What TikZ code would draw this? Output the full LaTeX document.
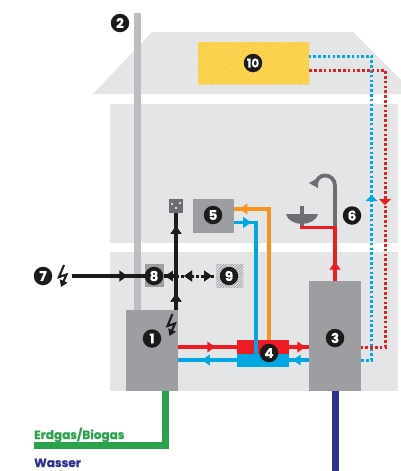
\documentclass[tikz,border=0pt]{standalone}
\usepackage{fontspec}
\setmainfont{Poppins}[BoldFeatures={FakeBold=0.6}]
\usetikzlibrary{arrows.meta,decorations.markings,patterns.meta}
\definecolor{wall}{HTML}{E4E5E7}
\definecolor{chim}{HTML}{BCBDC0}
\definecolor{unit}{HTML}{9D9EA1}
\definecolor{sock}{HTML}{6D6E71}
\definecolor{ink}{HTML}{1D1A1B}
\definecolor{hot}{HTML}{ED1C24}
\definecolor{cold}{HTML}{00A7E1}
\definecolor{oran}{HTML}{F7941D}
\definecolor{gree}{HTML}{2BA24C}
\definecolor{navy}{HTML}{2E3192}
\definecolor{solar}{HTML}{FDC82F}
\definecolor{solarlight}{HTML}{FBDD6E}
\tikzset{
  x=1pt,y=-1pt,
  wallbox/.style={fill=wall,draw=none,inner sep=0,anchor=north west},
  unitbox/.style={fill=unit,draw=none,inner sep=0,anchor=north west},
  badge/.style={circle,fill=ink,text=white,inner sep=0,minimum size=18.5pt,font=\bfseries\fontsize{13.5}{13.5}\selectfont},
  pipe/.style={line width=3.8pt},
  dotline/.style={line width=3pt,dash pattern=on 2.6pt off 2.2pt},
  tipAt/.style={postaction={decorate},decoration={markings,mark=at position #1 with {\arrow{Triangle[length=8pt,width=10.5pt]}}}},
  tipBack/.style={postaction={decorate},decoration={markings,mark=at position #1 with {\arrowreversed{Triangle[length=8pt,width=10.5pt]}}}},
  flatAt/.style={postaction={decorate},decoration={markings,mark=at position #1 with {\arrow{Triangle[length=6pt,width=12pt]}}}},
  boltpic/.pic={
    \draw[ink,line width=2.1pt,miter limit=10,-{Triangle[length=6.5pt,width=8pt]}] (1.5,-11) -- (-3.5,1) -- (4,-1.5) -- (-1.5,11);
  }
}
\begin{document}
\begin{tikzpicture}
\useasboundingbox (0,0) rectangle (401,471);
% house
\fill[wall] (93,94) -- (152,32) -- (353,32) -- (401,80) -- (401,94) -- cycle;
\node[wallbox,minimum width=288pt,minimum height=139pt] (upper) at (110,104) {};
\node[wallbox,minimum width=288pt,minimum height=139pt] (lower) at (110,252) {};
\node[fill=chim,inner sep=0,anchor=north west,minimum width=7pt,minimum height=298pt] (chimney) at (134,13) {};
% solar collector
\node[inner sep=0,anchor=north west,minimum width=111pt,minimum height=42pt,fill=solarlight] (b10) at (198,42) {};
\fill[pattern={Lines[angle=45,distance=2.4pt,line width=1.1pt]},pattern color=solar] (b10.north west) rectangle (b10.south east);
% units
\node[unitbox,minimum width=52pt,minimum height=81pt] (b1) at (126,310) {};
\node[unitbox,minimum width=52pt,minimum height=110pt] (b3) at (309,281) {};
\node[unitbox,minimum width=41pt,minimum height=34pt] (b5) at (193,199) {};
\node[unitbox,minimum width=19pt,minimum height=23pt] (b8) at (145,264) {};
\node[inner sep=0,anchor=north west,minimum width=27pt,minimum height=23pt,
  pattern={Lines[angle=45,distance=2pt,line width=.8pt]},pattern color=unit] (b9) at (216,264) {};
\node[fill=sock,inner sep=0,anchor=north west,minimum width=14pt,minimum height=14pt] (socket) at (169,199) {};
\fill[white] (172,204) circle (1.1) (180,203) circle (1.1) (176,208) circle (1.1);
% storage 4
\node[fill=hot,inner sep=0,anchor=north west,minimum width=52pt,minimum height=14pt] (b4hot) at (237,340) {};
\node[fill=cold,inner sep=0,anchor=north west,minimum width=52pt,minimum height=13pt] (b4cold) at (237,354) {};
% green, navy
\coordinate (gasend) at (34,445.5);
\coordinate (wasend) at (335.5,471);
\draw[gree,line width=7pt] (b1.south -| 165.5,0) -- (165.5,445.5) -- (gasend);
\draw[navy,line width=7pt] (b3.south -| wasend) -- (wasend);
% heating circuit
\draw[hot,pipe,tipAt=.63] (b1.east |- 0,347) -- (b4hot.west |- 0,347);
\draw[cold,pipe,tipAt=.6] (b4cold.west |- 0,360) -- (b1.east |- 0,360);
\draw[hot,pipe,tipAt=.82] (b4hot.east |- 0,347) -- (b3.west |- 0,347);
\draw[cold,pipe,tipAt=.83] (b3.west |- 0,360) -- (b4cold.east |- 0,360);
% 4 to 5
\draw[oran,pipe,tipAt=.97] (b4hot.north -| 269,0) -- (269,209) -- (b5.east |- 0,209);
\draw[cold,pipe,tipAt=.11] (b5.east |- 0,222.5) -- (256,222.5) -- (256,354);
% hot water
\draw[line width=3.5pt,sock] (302,206) -- (302,228);
\fill[sock] (286,214) -- (318,214) .. controls (317,220) and (309,224) .. (302,224) .. controls (295,224) and (287,220) .. (286,214) -- cycle;
\draw[sock,line width=3.8pt] (335,228) -- (335,186) .. controls (335,179) and (330,175.5) .. (325,175.5) .. controls (320,175.5) and (317,179) .. (316,183);
\fill[sock] (309,183) -- (318,178) -- (318,188) -- cycle;
\draw[hot,pipe,miter limit=10,tipAt=.22] (b3.north -| 335,0) -- (335,227.5) -- (300,227.5);
% solar lines
\draw[cold,dotline,flatAt=.465] (b3.east |- 0,360) -- (371.5,360) -- (371.5,56) -- (b10.east |- 0,56);
\draw[hot,dotline,flatAt=.56] (b10.east |- 0,70) -- (385,70) -- (385,347) -- (b3.east |- 0,347);
% electricity
\draw[ink,line width=3.6pt,tipAt=.17,tipAt=.87] (b1.north -| 176,0) -- (socket.south -| 176,0);
\coordinate (gridstart) at (72,276);
\draw[ink,line width=3.6pt,tipAt=.76] (gridstart) -- (b8.west |- gridstart);
\coordinate (junction) at (176,276);
\draw[ink,line width=3.6pt,tipAt=.95] (junction) -- (b8.east |- junction);
\draw[ink,line width=3pt,dash pattern=on 2.6pt off 2.4pt,tipAt=.9,tipBack=.2] (junction) -- (b9.west |- junction);
% bolts
\pic at (62.5,276) {boltpic};
\pic at (171,325) {boltpic};
% badges
\node[badge] (n1) at (152,338.5) {1};
\node[badge] (n2) at (120,23) {2};
\node[badge] (n3) at (335,338) {3};
\node[badge] (n4) at (269,353) {4};
\node[badge] (n5) at (213,215) {5};
\node[badge] (n6) at (352,215.5) {6};
\node[badge] (n7) at (43,276) {7};
\node[badge] (n8) at (154,276) {8};
\node[badge] (n9) at (229,276) {9};
\node[badge] (n10) at (253,63) {\fontsize{12}{12}\selectfont 10};
% labels
\node[anchor=base west,inner sep=0,text=gree,font=\bfseries\fontsize{12}{12}\selectfont] (lgas) at (34,439) {Erdgas/Biogas};
\node[anchor=base west,inner sep=0,text=navy,font=\bfseries\fontsize{12}{12}\selectfont] (lwas) at (34,467) {Wasser};
\end{tikzpicture}
\end{document}
